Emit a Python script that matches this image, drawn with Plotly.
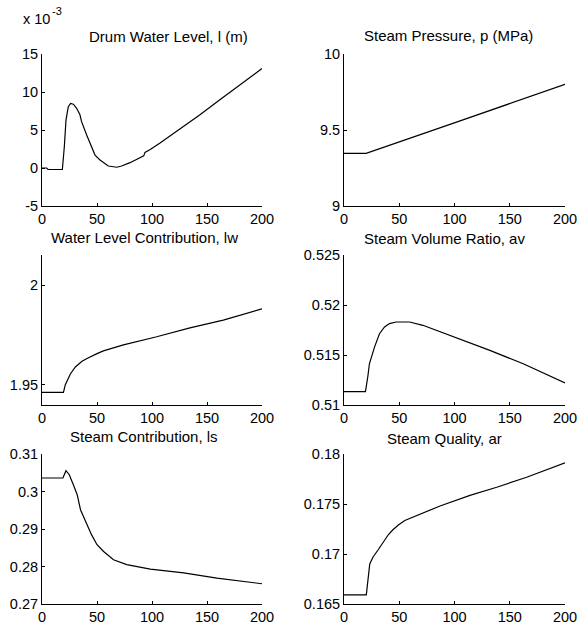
import plotly.graph_objects as go

# time axis values (s) for each curve
t_level = [0, 4.2, 5.5, 18.5, 20.3, 21.8, 23.9, 26, 28.5, 31.5, 34.5, 36, 40.6, 45, 48.2, 52.7,
           60.3, 68, 72.4, 80, 90.6, 92.5, 93.6, 98, 107.3, 125.5, 143.6, 162, 180, 200]
level_e3 = [0, 0, -0.2, -0.2, 2.8, 6.3, 8.07, 8.5, 8.4, 7.85, 7.0, 6.1, 4.34, 2.8, 1.7, 1.05,
            0.26, 0.1, 0.26, 0.7, 1.45, 1.6, 2.05, 2.4, 3.3, 5.1, 7.0, 9.0, 11.0, 13.1]

t_press = [0, 20, 101.8, 200]
pressure = [9.346, 9.346, 9.552, 9.80]

t_lw = [0, 19.5, 21.2, 25.8, 30.3, 36.4, 40.9, 45, 50, 55.8, 74, 104.3, 134.5, 164.8, 198, 200]
lw = [1.9461, 1.9461, 1.95, 1.9554, 1.9589, 1.9618, 1.9632, 1.9644, 1.9656, 1.967, 1.97, 1.9741,
      1.9786, 1.9825, 1.9878, 1.9881]

t_av = [0, 19.4, 21.5, 23, 27.6, 32.1, 36.7, 41.2, 47.3, 59.4, 71.4, 86.5, 104.6, 132, 162.2, 200]
av = [0.51134, 0.51134, 0.5128, 0.51412, 0.51579, 0.51713, 0.5178, 0.51814, 0.5183, 0.5183,
      0.51797, 0.51736, 0.51656, 0.51546, 0.51412, 0.51221]

t_ls = [0, 19, 21.8, 24.8, 28.5, 32, 35, 39, 45, 50, 56, 65, 77, 98.5, 128.8, 159, 200]
ls = [0.3036, 0.3036, 0.30555, 0.30448, 0.30181, 0.29915, 0.29515, 0.2925, 0.2885, 0.2858,
      0.284, 0.2818, 0.2805, 0.2793, 0.2783, 0.2769, 0.2754]

t_ar = [0, 20.2, 23.3, 26.3, 30.8, 35.3, 39.9, 44, 49.2, 55, 62.7, 75, 86.9, 114, 138.2, 165.3, 198.5, 200]
ar = [0.16592, 0.16592, 0.1690, 0.1697, 0.1704, 0.1712, 0.1719, 0.1724, 0.1729, 0.17335,
      0.1737, 0.1742, 0.1748, 0.17586, 0.17668, 0.17768, 0.179, 0.17911]

titles = ["Drum Water Level, l (m)", "Steam Pressure, p (MPa)",
          "Water Level Contribution, lw", "Steam Volume Ratio, av",
          "Steam Contribution, ls", "Steam Quality, ar"]
x_ticks = [0, 50, 100, 150, 200]
y_ranges = [[-5, 15], [9, 10], [1.9398, 2.0152], [0.51, 0.525], [0.27, 0.31], [0.165, 0.18]]
y_ticks = [[-5, 0, 5, 10, 15], [9, 9.5, 10], [1.95, 2], [0.51, 0.515, 0.52, 0.525],
           [0.27, 0.28, 0.29, 0.3, 0.31], [0.165, 0.17, 0.175, 0.18]]
y_ticktext = [["-5", "0", "5", "10", "15"], ["9", "9.5", "10"], ["1.95", "2"],
              ["0.51", "0.515", "0.52", "0.525"], ["0.27", "0.28", "0.29", "0.3", "0.31"],
              ["0.165", "0.17", "0.175", "0.18"]]

series = [(t_level, level_e3), (t_press, pressure), (t_lw, lw), (t_av, av), (t_ls, ls), (t_ar, ar)]

W, H = 578, 630
col_px = [(42, 262), (344, 565)]
row_px = [(54, 206), (255, 405), (454, 604)]
title_px = [(168.7, 36), (448, 35), (144.7, 237), (444, 238), (144, 436), (444.7, 438)]

FONT = "Liberation Sans, Arial, Helvetica, sans-serif"
FS = 14.5

fig = go.Figure()
layout = dict(width=W, height=H, margin=dict(l=0, r=0, t=0, b=0, autoexpand=False),
              paper_bgcolor="white", plot_bgcolor="white", showlegend=False,
              font=dict(family=FONT, size=FS, color="black"))
annotations = []

for i, (xs, ys) in enumerate(series):
    r, c = divmod(i, 2)
    n = "" if i == 0 else str(i + 1)
    fig.add_trace(go.Scatter(x=xs, y=ys, mode="lines", line=dict(color="black", width=1.2),
                             xaxis="x" + n, yaxis="y" + n, hoverinfo="skip"))
    x0, x1 = col_px[c]
    y0, y1 = row_px[r]
    layout["xaxis" + n] = dict(domain=[x0 / W, x1 / W], range=[0, 200], anchor="y" + n,
                               tickvals=x_ticks, ticks="inside", ticklen=3, tickcolor="black",
                               showline=True, linecolor="black", linewidth=1, automargin=False,
                               showgrid=False, zeroline=False, tickfont=dict(size=FS))
    layout["yaxis" + n] = dict(domain=[1 - y1 / H, 1 - y0 / H], range=y_ranges[i], anchor="x" + n,
                               tickvals=y_ticks[i], ticktext=y_ticktext[i],
                               ticks="inside", ticklen=3, tickcolor="black", automargin=False,
                               showline=True, linecolor="black", linewidth=1,
                               showgrid=False, zeroline=False, tickfont=dict(size=FS))
    tx, ty = title_px[i]
    annotations.append(dict(text=titles[i], x=tx / W, y=1 - ty / H, xref="paper", yref="paper",
                            xanchor="center", yanchor="middle", showarrow=False,
                            font=dict(size=15)))

# Matlab-style exponent label for the first plot
annotations.append(dict(text="x 10", x=21 / W, y=1 - 19 / H, xref="paper", yref="paper",
                        xanchor="left", yanchor="middle", showarrow=False, font=dict(size=FS)))
annotations.append(dict(text="-3", x=50 / W, y=1 - 11 / H, xref="paper", yref="paper",
                        xanchor="left", yanchor="middle", showarrow=False, font=dict(size=11)))

layout["annotations"] = annotations
fig.update_layout(**layout)
fig.write_html("out.html", config={"displayModeBar": False},
               post_script="document.body.style.margin='0';document.body.style.overflow='hidden';")
